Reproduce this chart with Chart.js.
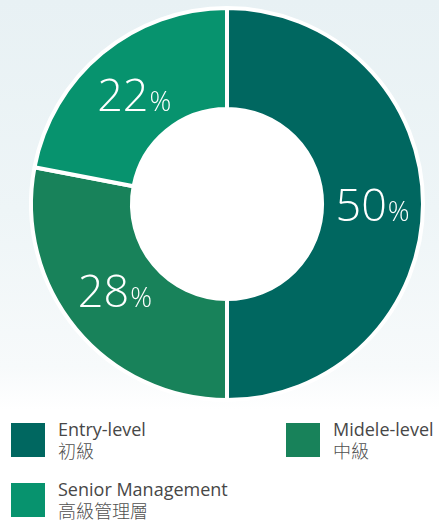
<!DOCTYPE html>
<html><head><meta charset="utf-8">
<script src="https://cdn.jsdelivr.net/npm/chart.js@4.4.0/dist/chart.umd.min.js"></script>
<style>
html,body{margin:0;padding:0;}
body{width:439px;height:525px;position:relative;overflow:hidden;
background:linear-gradient(180deg,#e8f1f4 0%,#eef5f7 40%,#f7fafb 70%,#ffffff 78%,#ffffff 100%);
font-family:"Open Sans","Noto Sans CJK TC",sans-serif;}
#wrap{position:absolute;left:0;top:0;width:439px;height:404px;}
.lg{position:absolute;display:flex;align-items:flex-start;}
.sw{width:34px;height:34px;margin-top:4px;}
.tx{margin-left:13px;color:#474747;font-size:18px;line-height:21px;}
.tx .zh{font-family:"Noto Sans CJK TC",sans-serif;font-size:18px;font-weight:300;color:#505050;}
</style></head><body>
<div id="wrap"><canvas id="c"></canvas></div>
<div id="legend"></div>
<script>
const categories = ["Entry-level", "Midele-level", "Senior Management"];
const categoriesZh = ["初級", "中級", "高級管理層"];
const values = [50, 28, 22];
const colors = ["#006760", "#18825a", "#07936e"];

const legendPos = [[11, 419], [286, 419], [11, 479]];
const labelNudgeY = [0, -7, 2];
const legend = document.getElementById('legend');
categories.forEach((c, i) => {
  const d = document.createElement('div');
  d.className = 'lg';
  d.style.left = legendPos[i][0] + 'px';
  d.style.top = legendPos[i][1] + 'px';
  d.innerHTML = '<div class="sw" style="background:' + colors[i] + '"></div><div class="tx"><div>' + c + '</div><div class="zh">' + categoriesZh[i] + '</div></div>';
  legend.appendChild(d);
});

const holePlugin = {
  id: 'whiteHole',
  beforeDatasetsDraw(chart) {
    const arc = chart.getDatasetMeta(0).data[0];
    if (!arc) return;
    const ctx = chart.ctx;
    ctx.save();
    ctx.fillStyle = '#ffffff';
    ctx.beginPath();
    ctx.arc(arc.x, arc.y, arc.innerRadius + 1, 0, Math.PI * 2);
    ctx.fill();
    ctx.restore();
  }
};

const labelPlugin = {
  id: 'pctLabels',
  afterDatasetsDraw(chart) {
    const ctx = chart.ctx;
    const meta = chart.getDatasetMeta(0);
    meta.data.forEach((arc, i) => {
      const p = arc.tooltipPosition();
      const num = String(values[i]);
      ctx.save();
      ctx.fillStyle = '#ffffff';
      ctx.textBaseline = 'alphabetic';
      ctx.font = '300 45px "Open Sans"';
      const w1 = ctx.measureText(num).width;
      ctx.font = '300 27px "Open Sans"';
      const w2 = ctx.measureText('%').width;
      const x0 = p.x - (w1 + w2 + 1) / 2;
      const by = p.y + 17 + labelNudgeY[i];
      ctx.font = '300 45px "Open Sans"';
      ctx.fillText(num, x0, by);
      ctx.font = '300 27px "Open Sans"';
      ctx.fillText('%', x0 + w1 + 1, by);
      ctx.restore();
    });
  }
};

new Chart(document.getElementById('c'), {
  type: 'doughnut',
  data: {
    labels: categories,
    datasets: [{
      data: values,
      backgroundColor: colors,
      borderColor: '#ffffff',
      borderWidth: 4,
      hoverOffset: 0
    }]
  },
  options: {
    responsive: true,
    maintainAspectRatio: false,
    animation: false,
    cutout: '48.5%',
    layout: { padding: { left: 29, right: 14, top: 4, bottom: 0 } },
    plugins: { legend: { display: false }, tooltip: { enabled: false } }
  },
  plugins: [holePlugin, labelPlugin]
});
</script>
</body></html>
